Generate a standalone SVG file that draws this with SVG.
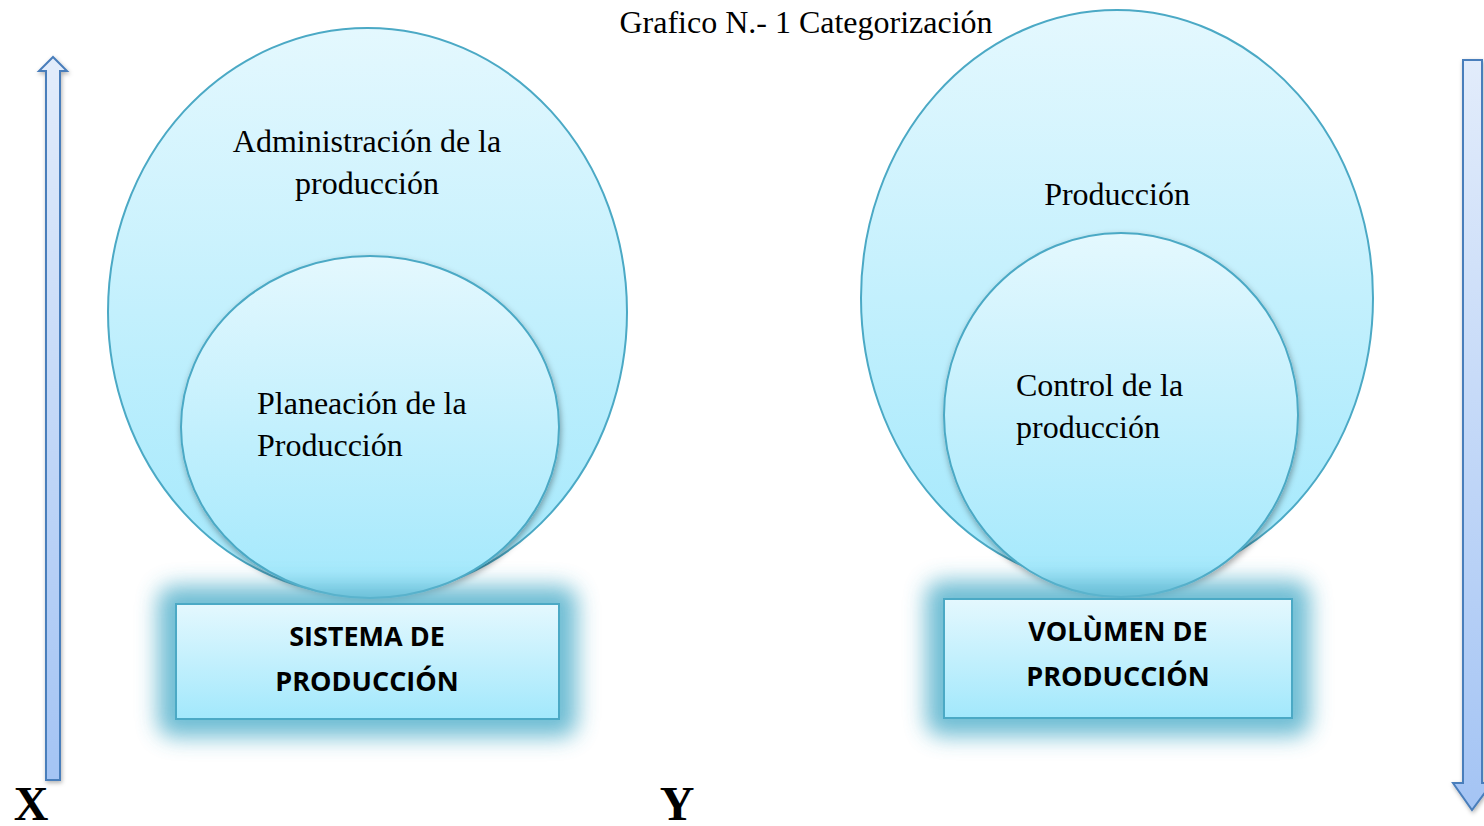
<svg xmlns="http://www.w3.org/2000/svg" width="1484" height="826" viewBox="0 0 1484 826">
<style>
.ser{font-family:"Liberation Serif","Times New Roman",serif;fill:#000}
.lbl{font-size:32px}
.box{font-family:"Open Sans","Liberation Sans",sans-serif;font-weight:bold;font-size:27px;fill:#000;text-anchor:middle}
.ell{fill:url(#cg);stroke:#4ba9c5;stroke-width:2}
.rct{fill:url(#cg);stroke:#4ba9c5;stroke-width:2}
.arr{stroke:#4a7ebb;stroke-width:2;stroke-linejoin:miter}
</style>
<defs>
<linearGradient id="cg" x1="0" y1="0" x2="0" y2="1">
<stop offset="0" stop-color="#e4f8fe"/>
<stop offset="1" stop-color="#a2e8fc"/>
</linearGradient>
<linearGradient id="ag" x1="0" y1="0" x2="0" y2="1">
<stop offset="0" stop-color="#e2ecfb"/>
<stop offset="1" stop-color="#a4c4f4"/>
</linearGradient>
<filter id="glow" x="-30%" y="-60%" width="160%" height="220%">
<feGaussianBlur stdDeviation="11"/>
</filter>
<filter id="sh" x="-10%" y="-10%" width="120%" height="120%">
<feDropShadow dx="1" dy="3" stdDeviation="3" flood-color="#000" flood-opacity="0.35"/>
</filter>
<filter id="ash" x="-50%" y="-5%" width="200%" height="110%">
<feDropShadow dx="1" dy="2" stdDeviation="2" flood-color="#000" flood-opacity="0.3"/>
</filter>
</defs>
<rect width="1484" height="826" fill="#fff"/>

<text class="ser" x="806" y="33" font-size="32" text-anchor="middle">Grafico N.- 1 Categorización</text>

<g id="arrows">
<path class="arr" fill="url(#ag)" filter="url(#ash)" d="M46,780 L46,71 L39,71 L53,57 L67,71 L60,71 L60,780 Z"/>
<path class="arr" fill="url(#ag)" stroke="#5b8ed0" filter="url(#ash)" d="M1463,60 L1482,60 L1482,783 L1492,783 L1472,810 L1453,783 L1463,783 Z"/>
</g>

<g id="node-left">
<ellipse class="ell" cx="367.5" cy="312" rx="259.5" ry="284"/>
<text class="ser lbl" x="367" y="152" text-anchor="middle">Administración de la</text>
<text class="ser lbl" x="367" y="194" text-anchor="middle">producción</text>
<ellipse class="ell" cx="370" cy="427" rx="189" ry="171" filter="url(#sh)"/>
<text class="ser lbl" x="257" y="414">Planeación de la</text>
<text class="ser lbl" x="257" y="456">Producción</text>
</g>

<g id="node-right">
<ellipse class="ell" cx="1117" cy="298" rx="256" ry="288"/>
<text class="ser lbl" x="1117" y="205" text-anchor="middle">Producción</text>
<ellipse class="ell" cx="1121" cy="415" rx="177" ry="182" filter="url(#sh)"/>
<text class="ser lbl" x="1016" y="396">Control de la</text>
<text class="ser lbl" x="1016" y="438">producción</text>
</g>

<g id="box-left">
<rect x="158" y="586" width="419" height="151" rx="16" fill="#5fb6cf" opacity="0.9" filter="url(#glow)"/>
<rect class="rct" x="176" y="604" width="383" height="115"/>
<text class="box" x="367" y="646">SISTEMA DE</text>
<text class="box" x="367" y="691">PRODUCCIÓN</text>
</g>

<g id="box-right">
<rect x="926" y="581" width="384" height="155" rx="16" fill="#5fb6cf" opacity="0.9" filter="url(#glow)"/>
<rect class="rct" x="944" y="599" width="348" height="119"/>
<text class="box" x="1118" y="641">VOLÙMEN DE</text>
<text class="box" x="1118" y="686">PRODUCCIÓN</text>
</g>

<text class="ser" x="31" y="820" font-size="48" font-weight="bold" text-anchor="middle">X</text>
<text class="ser" x="677" y="820" font-size="48" font-weight="bold" text-anchor="middle">Y</text>
</svg>
